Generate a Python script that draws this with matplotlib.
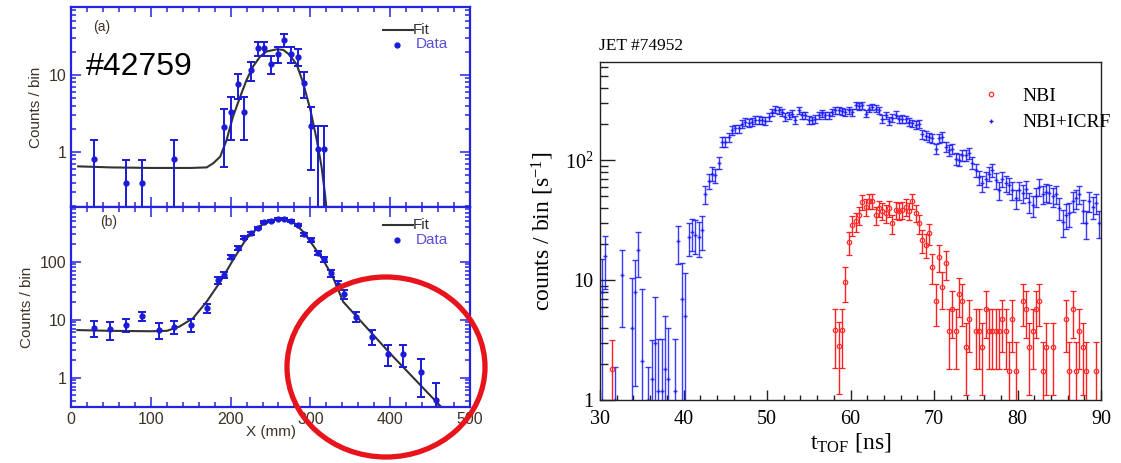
import numpy as np
import matplotlib
matplotlib.use("Agg")
import matplotlib.pyplot as plt
from matplotlib.patches import Ellipse
from matplotlib.lines import Line2D
from matplotlib.ticker import LogLocator, MultipleLocator, NullFormatter, FuncFormatter

plt.rcParams['mathtext.fontset'] = 'custom'
plt.rcParams['mathtext.rm'] = 'Liberation Serif'
plt.rcParams['mathtext.it'] = 'Liberation Serif:italic'

# ---- left figure, shot #42759 : (a) and (b) profiles ----
xa = [29, 69, 89, 129, 192, 200, 209, 217, 226, 234, 242, 251, 259, 267, 276, 284, 292, 301, 309, 317]
ya = [0.81, 0.39, 0.39, 0.81, 2.13, 3.34, 7.57, 3.34, 11.6, 22.2, 22.2, 13.9, 18.7, 28.5, 18.7, 17.3, 7.94, 2.18, 1.09, 1.09]
ea = [0.62, 0.4, 0.4, 0.62, 1.5, 1.9, 2.7, 1.9, 3.3, 4.6, 4.6, 3.7, 4.3, 5.3, 4.3, 4.2, 2.9, 1.6, 1.1, 1.1]
fit_xa = [9, 50, 100, 150, 170, 178, 187, 195, 203, 212, 220, 228, 237, 245, 258, 266, 274, 283, 291, 300, 308, 314, 318, 321]
fit_ya = [0.65, 0.63, 0.62, 0.62, 0.63, 0.71, 0.87, 1.43, 2.87, 5.2, 8.6, 12.8, 17.3, 20.1, 21.5, 21.1, 18.2, 13.5, 7.8, 3.5, 1.43, 0.64, 0.3, 0.15]

xb = [29, 49, 69, 89, 110, 129, 150, 170, 184, 192, 200, 209, 217, 226, 234, 242, 251, 259, 267, 276,
      284, 292, 301, 309, 317, 326, 334, 342, 357, 377, 397, 416, 438, 457]
yb = [7.3, 6.8, 8.1, 11.6, 6.6, 7.6, 8.1, 15.7, 48, 59, 122, 174, 259, 309, 386, 478, 504, 538, 538, 509,
      430, 297, 237, 143, 110, 63, 40, 27.4, 11.3, 5.1, 2.6, 2.6, 1.27, 0.41]
eb = [2.2, 2.3, 2.0, 2.1, 2.0, 2.0, 2.0, 2.6, 6.5, 7, 10, 13, 16, 17, 19, 21, 22, 23, 23, 22,
      20, 17, 15, 12, 10.5, 8, 6, 5, 2.3, 1.4, 1.0, 1.1, 0.8, 0.4]
fit_xb = [8, 50, 100, 120, 136, 153, 170, 187, 203, 220, 237, 253, 268, 278, 291, 303, 316, 328, 335, 341, 400, 465]
fit_yb = [6.6, 6.4, 6.3, 6.4, 7.6, 10.6, 20.4, 45, 107, 253, 417, 524, 545, 490, 329, 194, 107, 55, 32.5, 20.4, 2.6, 0.3]

# ---- right figure, JET #74952 : TOF spectra (0.4 ns bins from 30.2 ns) ----
tof = np.round(30.2 + 0.4 * np.arange(150), 1)
nan = np.nan
icrf = [8, 16, nan, nan, 1.0, nan, 11, nan, nan, 4,
        8, 18, 2.1, nan, 1.0, 1.5, 3.0, 1.2, 1.2, 1.8,
        1.5, nan, 1.2, 21, 7, 5, 23, 25, 24, 23,
        26, 52, 67, 77, 75, 95, 142, 143, 155, 178,
        184, 184, 202, 209, 205, 209, 218, 218, 215, 212,
        230, 253, 264, 260, 253, 230, 237, 245, 218, 260,
        237, 237, 218, 215, 222, 237, 248, 237, 237, 253,
        260, 260, 256, 253, 262, 253, 287, 282, 287, 245,
        270, 278, 270, 261, 222, 237, 213, 225, 240, 219,
        222, 219, 209, 203, 196, 200, 165, 160, 155, 152,
        125, 152, 157, 129, 121, 125, 103, 101, 110, 110,
        115, 95, 82.5, 72, 64, 70, 77, 82.5, 68, 56,
        70, 64, 62, 56, 48, 56, 53, 58, 45, 42,
        50, 60, 52, 54, 53, 50, 52, 40, 30.6, 35,
        36, 46, 48, 52, 38, 29.7, 46, 41, 44, 30]
# error bars read from the caps below 42.4 ns
icrf_err_low = [7, 7.5, 0, 0, 0.9, 0, 6.9, 0, 0, 6.5,
                6.7, 7.4, 6.3, 0, 0.9, 1.66, 4.3, 2.0, 2.0, 3.2,
                2.5, 0, 2.0, 7.3, 6.8, 6.5, 7.0, 7.5, 7.5, 7.5, 8.0]
nbi = [nan] * 150
nbi[3] = 1.8
nbi[70:111] = [3.8, 2.8, 3.8, 9.7, 20.6, 28.7, 31, 35, 45, 41,
               46, 46, 35, 39.6, 37.6, 36, 39.6, 29.7, 38.5, 37.6,
               38.5, 41, 37.6, 46, 36.5, 29.7, 21.5, 19.6, 24.5, 12.8,
               6.7, 15.6, 8.7, 13.8, 3.76, 5.7, 3.76, 7.7, 6.7, 2.75, 4.7]
nbi[112:150] = [3.76, 3.76, 2.75, 5.7, 3.76, 3.76, 3.76, 3.76, 4.7, 3.76,
                1.75, 4.7, 1.75, nan, 6.7, 5.7, 2.75, 3.76, 5.7, 6.7,
                1.75, 2.75, nan, 2.75, nan, nan, nan, 4.7, 1.75, 5.7,
                1.75, 3.76, 2.75, 1.75, nan, nan, 1.75, nan]

W, H = 1121, 463
fig = plt.figure(figsize=(W / 100, H / 100), dpi=100)

def fx(px):
    return px / W

def fy(py):
    return 1 - py / H

blue = '#2424e0'
brown = '#3d3224'
sans = 'Liberation Sans'
ax_a = fig.add_axes([fx(71), fy(207), fx(470) - fx(71), fy(7) - fy(207)])
ax_b = fig.add_axes([fx(71), fy(407), fx(470) - fx(71), fy(207) - fy(407)])

for ax, x, y, e, fxs, fys, ylim in [(ax_a, xa, ya, ea, fit_xa, fit_ya, (0.193, 76)),
                                     (ax_b, xb, yb, eb, fit_xb, fit_yb, (0.31, 880))]:
    y = np.array(y); e = np.array(e)
    lo = np.minimum(e, y * 0.999)
    ax.plot(fxs, fys, color='#333333', lw=1.5, zorder=2)
    ax.errorbar(x, y, yerr=[lo, e], fmt='o', ms=3.5, color='#1a1ad8', ecolor='#1a1ad8',
                elinewidth=1.4, capsize=3, capthick=1.4, zorder=3)
    ax.set_yscale('log')
    ax.set_ylim(*ylim)
    ax.set_xlim(0, 500)
    ax.xaxis.set_major_locator(MultipleLocator(100))
    ax.xaxis.set_minor_locator(MultipleLocator(20))
    ax.yaxis.set_major_locator(LogLocator(base=10))
    ax.yaxis.set_minor_locator(LogLocator(base=10, subs=np.arange(2, 10)))
    ax.yaxis.set_major_formatter(FuncFormatter(lambda v, p: '%g' % v))
    ax.yaxis.set_minor_formatter(NullFormatter())
    ax.tick_params(which='both', direction='in', top=True, right=True, color=blue,
                   labelcolor=brown, labelsize=11.5, width=1.1)
    ax.tick_params(which='major', length=7)
    ax.tick_params(which='minor', length=3.5)
    for s in ax.spines.values():
        s.set_color(blue)
        s.set_linewidth(1.6)
    ax.set_ylabel('Counts / bin', fontsize=11, color=brown, family=sans, labelpad=4)
    for lab in ax.get_xticklabels() + ax.get_yticklabels():
        lab.set_family(sans)

ax_a.tick_params(labelbottom=False)
ax_b.set_xlabel('X (mm)', fontsize=11, color=brown, family=sans, labelpad=-1)

# legends and panel tags drawn in figure pixels
for top, tag, tagx in [(29.5, '(a)', 102), (225, '(b)', 109)]:
    fig.add_artist(Line2D([fx(383), fx(413)], [fy(top), fy(top)], color='#333333', lw=1.5))
    fig.text(fx(413), fy(top), 'Fit', fontsize=11, color='#333333', family=sans, va='center')
    fig.add_artist(Line2D([fx(397)], [fy(top + 15)], marker='o', ms=3.5, color='#1a1ad8'))
    fig.text(fx(416), fy(top + 15), 'Data', fontsize=11, color='#5a4fd6', family=sans, va='center')
    fig.text(fx(tagx), fy(top - 3), tag, fontsize=10, color=brown, family=sans, ha='center', va='center')

fig.text(fx(139), fy(67), '#42759', fontsize=23, color='black', family=sans, ha='center', va='center')

# ---- right axes ----
serif = 'Liberation Serif'
axr = fig.add_axes([fx(600), fy(400), fx(1101) - fx(600), fy(62) - fy(400)])
icrf = np.array(icrf, dtype=float)
icrf_err = np.sqrt(icrf + 30)
icrf_err[:len(icrf_err_low)] = icrf_err_low
nbi = np.array(nbi, dtype=float)
nbi_err = np.sqrt(nbi)

m = np.isfinite(nbi)
axr.errorbar(tof[m], nbi[m], yerr=[np.minimum(nbi_err[m], nbi[m] * 0.999), nbi_err[m]], fmt='o', ms=3.2,
             mfc='none', mec='#ff3030', mew=0.9, ecolor='#ff2020', elinewidth=1.0, capsize=2.5,
             capthick=1.0, zorder=3)
m = np.isfinite(icrf)
axr.errorbar(tof[m], icrf[m], yerr=[np.minimum(icrf_err[m], icrf[m] * 0.999), icrf_err[m]], fmt='+', ms=3,
             color='#1818ff', ecolor='#1818ff', elinewidth=1.0, capsize=2.5, capthick=1.0,
             alpha=0.85, zorder=2)

axr.set_yscale('log')
axr.set_xlim(30, 90)
axr.set_ylim(1, 660)
axr.xaxis.set_major_locator(MultipleLocator(10))
axr.xaxis.set_minor_locator(MultipleLocator(2))
axr.yaxis.set_major_locator(LogLocator(base=10))
axr.yaxis.set_minor_locator(LogLocator(base=10, subs=np.arange(2, 10)))
axr.yaxis.set_major_formatter(FuncFormatter(lambda v, p: {1: '1', 10: '10', 100: '$10^2$'}.get(int(round(v)), '')))
axr.yaxis.set_minor_formatter(NullFormatter())
axr.tick_params(which='both', direction='in', top=False, right=False, labelsize=14.5,
                color='#222222', width=1.0)
axr.tick_params(axis='y', which='major', length=11, pad=5)
axr.tick_params(axis='y', which='minor', length=5.5)
axr.tick_params(axis='x', which='major', length=7, pad=7)
axr.tick_params(axis='x', which='minor', length=3.6)
for lab in axr.get_xticklabels() + axr.get_yticklabels():
    lab.set_family(serif)
for s in axr.spines.values():
    s.set_color('#222222')
    s.set_linewidth(1.0)
axr.set_xlabel(r't$_{\mathrm{TOF}}$ [ns]', fontsize=17, family=serif, labelpad=2)
axr.set_ylabel(r'counts / bin [s$^{-1}$]', fontsize=17, family=serif, labelpad=6)
fig.text(fx(599), fy(46), 'JET #74952', fontsize=12.5, family=serif, va='center')

handles = [Line2D([], [], ls='none', marker='o', ms=3.2, mfc='none', mec='#ff3030', mew=0.9),
           Line2D([], [], ls='none', marker='+', ms=3, color='#1818ff')]
axr.legend(handles, ['NBI', 'NBI+ICRF'], loc='upper left', bbox_to_anchor=(fx(962), fy(70)),
           bbox_transform=fig.transFigure, frameon=False, prop={'family': serif, 'size': 14},
           handlelength=1.2, handletextpad=1.0, labelspacing=0.45)

# red highlight ring around the tail of (b)
fig.add_artist(Ellipse((fx(386), fy(367)), fx(198), 180 / H, transform=fig.transFigure,
                       fill=False, ec='#e8141c', lw=3.8, zorder=10))

fig.savefig('out.png', dpi=100)
